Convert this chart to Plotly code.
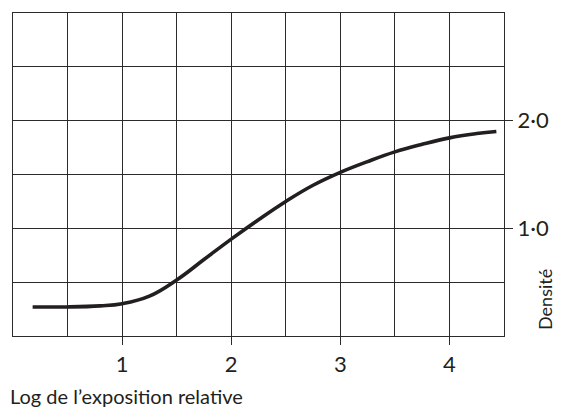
import plotly.graph_objects as go

# Data
log_exposure = [0.18, 0.5, 0.8, 1.0, 1.25, 1.5, 1.75, 2.0, 2.25, 2.5, 2.75, 3.0, 3.25, 3.5, 3.75, 4.0, 4.25, 4.43]
density = [0.27, 0.27, 0.28, 0.30, 0.37, 0.52, 0.71, 0.90, 1.08, 1.25, 1.40, 1.52, 1.62, 1.71, 1.78, 1.84, 1.88, 1.90]

x_ticks = [1, 2, 3, 4]
x_tick_labels = ["1", "2", "3", "4"]
y_ticks = [1, 2]
y_tick_labels = ["1·0", "2·0"]
x_minor = [0.5, 1.5, 2.5, 3.5]
y_minor = [0.5, 1.5, 2.5]

x_title = "Log de l’exposition relative"
y_title = "Densité"

ink = "#231f20"
grid = "#2b2b2b"
FONT = "Lato"

fig = go.Figure()
fig.add_trace(go.Scatter(
    x=log_exposure, y=density, mode="lines",
    line=dict(color=ink, width=3.6, shape="spline", smoothing=1.2),
    hoverinfo="skip", showlegend=False,
))

# page body has an 8px margin; figure origin sits at (8, 8) of the page
OFF = 8
W, H = 561 - OFF, 409 - OFF
L, T = 12.5 - OFF, 12.5 - OFF
R = W - (504 - OFF)
B = H - (336.5 - OFF)
pw, ph = W - L - R, H - T - B

def px_x(p):
    return (p - OFF - L) / pw

def px_y(p):
    return (H - B - (p - OFF)) / ph

fig.update_layout(
    width=W, height=H,
    margin=dict(l=L, r=R, t=T, b=B, pad=0),
    paper_bgcolor="white", plot_bgcolor="white",
    font=dict(family=FONT, size=20, color=ink),
    showlegend=False,
    xaxis=dict(
        range=[0, 4.5], tickmode="array", tickvals=x_ticks, ticktext=x_tick_labels,
        ticks="outside", ticklen=8, tickwidth=1.3, tickcolor=grid,
        showgrid=True, gridcolor=grid, gridwidth=1.3,
        showline=True, linecolor=grid, linewidth=1.3, mirror=True,
        zeroline=False, fixedrange=True,
        minor=dict(tickvals=x_minor, showgrid=True, gridcolor=grid, gridwidth=1.3, ticks=""),
        tickfont=dict(size=22, color=ink),
    ),
    yaxis=dict(
        range=[0, 3], side="right", tickmode="array", tickvals=y_ticks, ticktext=y_tick_labels,
        ticks="outside", ticklen=8, tickwidth=1.3, tickcolor=grid,
        showgrid=True, gridcolor=grid, gridwidth=1.3,
        showline=True, linecolor=grid, linewidth=1.3, mirror=True,
        zeroline=False, fixedrange=True,
        minor=dict(tickvals=y_minor, showgrid=True, gridcolor=grid, gridwidth=1.3, ticks=""),
        tickfont=dict(size=22, color=ink),
    ),
    annotations=[
        dict(text=x_title, xref="paper", yref="paper",
             x=px_x(7), y=px_y(397), xanchor="left", yanchor="middle",
             showarrow=False, font=dict(family=FONT, size=20, color=ink)),
        dict(text=y_title, xref="paper", yref="paper",
             x=px_x(545), y=px_y(331), xanchor="center", yanchor="bottom",
             textangle=-90, showarrow=False, borderpad=0,
             font=dict(family=FONT, size=18, color=ink)),
    ],
)

fig.write_html("out.html")
